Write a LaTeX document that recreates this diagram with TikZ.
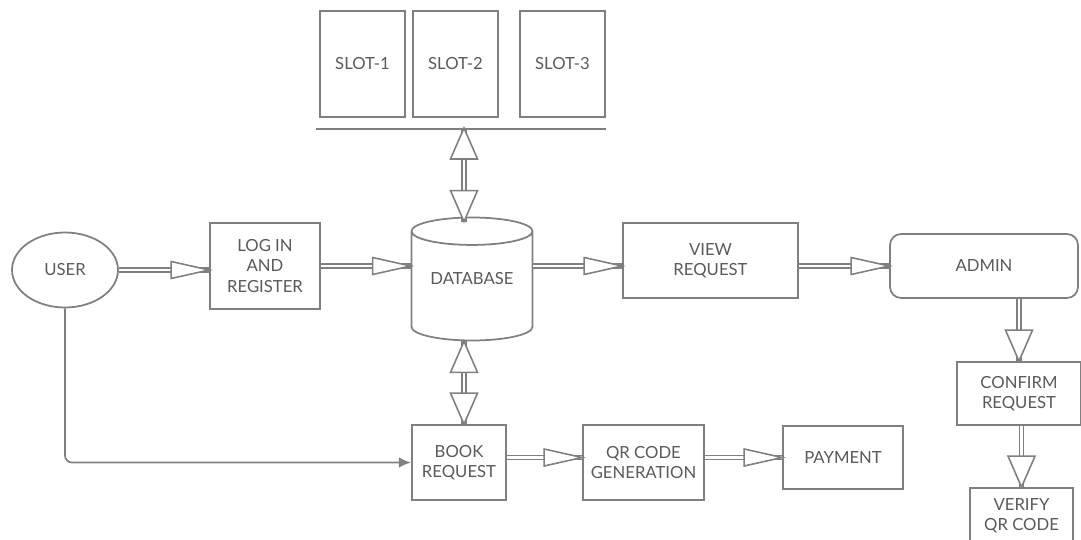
\documentclass[tikz,border=0pt]{standalone}
\usepackage{fontspec}
\setmainfont{Lato}
\usetikzlibrary{arrows.meta,shapes.geometric,positioning,decorations.markings}
\definecolor{linegray}{RGB}{128,128,128}
\definecolor{textgray}{RGB}{90,90,90}
\tikzstyle{box} = [rectangle, draw=linegray, line width=1pt, text=textgray, align=center, inner sep=0pt, fill=white]
\tikzstyle{slot} = [box, minimum width=1.7cm, minimum height=2.12cm]
\tikzstyle{panel} = [box, rounded corners=0.22cm]
\tikzstyle{actor} = [ellipse, draw=linegray, line width=1pt, text=textgray, minimum width=2.12cm, minimum height=1.5cm, inner sep=0pt]
\tikzstyle{store} = [cylinder, shape border rotate=90, aspect=0.33, minimum width=2.42cm, minimum height=2.46cm, draw=linegray, line width=1pt, text=textgray, inner sep=0pt, fill=white, text height=0.24cm, text depth=0.32cm]

% hollow double arrows: thick grey line, white core, open head on top
\tikzset{
  tiphead/.style={draw=linegray, line width=0.9pt, fill=white, line join=miter},
  flowline/.style={draw=linegray, line width=3.2pt, postaction={draw=white, line width=1.6pt}},
  hflow/.style={flowline, postaction={decorate, decoration={markings,
      mark=at position 1 with {\draw[tiphead] (0,0) -- (-0.76cm,0.17cm) -- (-0.76cm,-0.17cm) -- cycle;}}}},
  vflow/.style={flowline, postaction={decorate, decoration={markings,
      mark=at position 1 with {\draw[tiphead] (0,0) -- (-0.62cm,0.27cm) -- (-0.62cm,-0.27cm) -- cycle;}}}},
  vflowboth/.style={flowline, postaction={decorate, decoration={markings,
      mark=at position 0 with {\draw[tiphead] (0,0) -- (0.62cm,0.27cm) -- (0.62cm,-0.27cm) -- cycle;},
      mark=at position 1 with {\draw[tiphead] (0,0) -- (-0.62cm,0.27cm) -- (-0.62cm,-0.27cm) -- cycle;}}}},
  link/.style={draw=linegray, line width=1pt, rounded corners=0.14cm, -{Latex[length=7pt,width=6pt]}}
}

\begin{document}
\begin{tikzpicture}[x=0.02cm, y=-0.02cm, font=\fontsize{9.5}{11.5}\selectfont]
    \useasboundingbox (0,0) rectangle (1081,540);
    % parking slots
    \node (slot1) [slot] at (362.5,64) {SLOT-1};
    \node (slot2) [slot, right of=slot1, node distance=1.86cm] {SLOT-2};
    \node (slot3) [slot, right of=slot2, node distance=2.14cm] {SLOT-3};
    \draw[draw=linegray, line width=1.2pt] ([shift={(-0.06cm,-0.22cm)}]slot1.south west) -- ([yshift=-0.22cm]slot3.south east);
    \coordinate (bar) at (464,128);

    % main row
    \node (user) [actor] at (65,270) {USER};
    \node (login) [box, minimum width=2.2cm, minimum height=1.72cm] at (265,266) {LOG IN\\AND\\REGISTER};
    \node (db) [store, anchor=shape center] at (472,279) {DATABASE};
    \node (view) [box, minimum width=3.5cm, minimum height=1.5cm] at (710.5,260.5) {VIEW\\REQUEST};
    \node (admin) [panel, minimum width=3.76cm, minimum height=1.28cm] at (984,266) {ADMIN};
    \node (confirm) [box, minimum width=2.48cm, minimum height=1.26cm] at (1019,393.5) {CONFIRM\\REQUEST};
    \node (verify) [box, minimum width=2.06cm, minimum height=1.12cm] at (1021.5,516) {VERIFY\\QR CODE};

    % booking row
    \node (book) [box, minimum width=1.88cm, minimum height=1.5cm] at (459,462.5) {BOOK\\REQUEST};
    \node (qr) [box, minimum width=2.42cm, minimum height=1.5cm, right of=book, node distance=3.69cm] {QR CODE\\GENERATION};
    \node (pay) [box, minimum width=2.4cm, minimum height=1.26cm] at (843,457.5) {PAYMENT};

    \draw[hflow] (user.east) -- (user.east -| login.west);
    \draw[hflow] (login.east) -- (login.east -| db.west);
    \draw[hflow] (db.east |- login.east) -- (view.west |- login.east);
    \draw[hflow] (view.east |- admin.west) -- (admin.west);
    \draw[vflow] (confirm.north |- admin.south) -- (confirm.north);
    \draw[vflow] (verify.north |- confirm.south) -- (verify.north);
    \draw[vflowboth] (bar) -- ([yshift=-0.1cm]bar |- db.north);
    \draw[vflowboth] (bar |- db.south) -- (bar |- book.north);
    \draw[hflow] (book.east |- pay.west) -- (qr.west |- pay.west);
    \draw[hflow] (qr.east |- pay.west) -- (pay.west);
    \draw[link] (user.south) |- (book.west);
\end{tikzpicture}
\end{document}
